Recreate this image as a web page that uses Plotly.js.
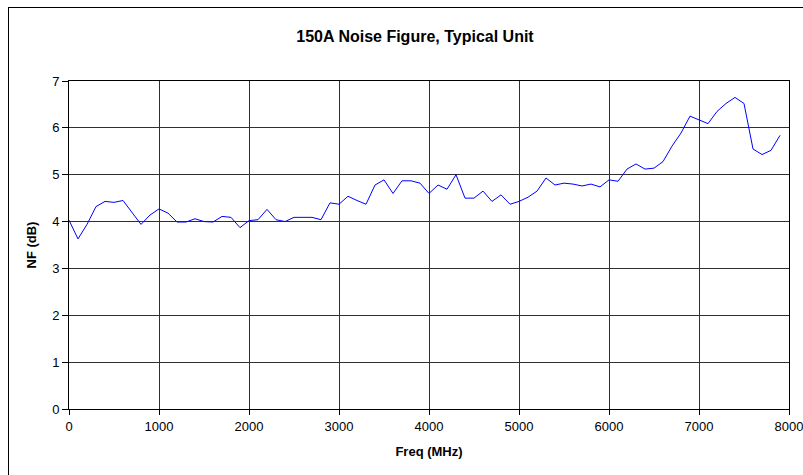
<!DOCTYPE html>
<html><head><meta charset="utf-8">
<script src="https://cdn.plot.ly/plotly-3.0.1.min.js"></script>
<style>html,body{margin:0;padding:0;background:#fff;overflow:hidden}#frame{position:absolute;left:8px;top:7px;width:820px;height:500px;border:1px solid #000;pointer-events:none}</style>
</head><body>
<div id="chart" style="width:803px;height:475px;position:absolute;left:0;top:0"></div>
<div id="frame"></div>
<script>
const freqMHz = [];
for (let f = 0; f <= 7900; f += 100) freqMHz.push(f);
const nfDb = [
  4.03, 3.63, 3.94, 4.32, 4.43, 4.41, 4.45, 4.20, 3.94, 4.14,
  4.27, 4.18, 3.99, 3.99, 4.06, 4.00, 3.99, 4.11, 4.09, 3.87,
  4.02, 4.04, 4.26, 4.04, 4.00, 4.09, 4.09, 4.09, 4.04, 4.40,
  4.37, 4.54, 4.45, 4.37, 4.78, 4.89, 4.60, 4.87, 4.87, 4.82,
  4.60, 4.78, 4.69, 5.00, 4.50, 4.50, 4.65, 4.43, 4.57, 4.37,
  4.43, 4.52, 4.65, 4.93, 4.78, 4.82, 4.80, 4.76, 4.80, 4.74,
  4.89, 4.86, 5.12, 5.23, 5.12, 5.14, 5.28, 5.61, 5.89, 6.25,
  6.17, 6.09, 6.35, 6.52, 6.65, 6.52, 5.55, 5.43, 5.52, 5.84
];
const xTicks = [0,1000,2000,3000,4000,5000,6000,7000,8000];
const yTicks = [0,1,2,3,4,5,6,7];
const font = 'Liberation Sans, Arial, sans-serif';
Plotly.newPlot('chart', [{
  x: freqMHz, y: nfDb, type: 'scatter', mode: 'lines',
  line: {color: '#0000ff', width: 1}, hoverinfo: 'none'
}], {
  width: 803, height: 475,
  margin: {l: 69, r: 14, t: 81, b: 66},
  paper_bgcolor: '#fff', plot_bgcolor: '#fff',
  showlegend: false,
  title: {text: '<b>150A Noise Figure, Typical Unit</b>', font: {family: font, size: 16, color: '#000'}, x: 0.5168, xanchor: 'center', y: 0.924, yanchor: 'middle'},
  xaxis: {
    range: [0, 8000], tickvals: xTicks, ticktext: xTicks.map(String),
    showgrid: true, gridcolor: '#303030', gridwidth: 1,
    showline: true, linecolor: '#000', linewidth: 1, mirror: true,
    ticks: 'outside', ticklen: 5, tickcolor: '#000',
    ticklabeloverflow: 'allow',
    zeroline: false,
    tickfont: {family: font, size: 13, color: '#000'},
    title: {text: '<b>Freq (MHz)</b>', font: {family: font, size: 13, color: '#000'}, standoff: 14}
  },
  yaxis: {
    range: [0, 7], tickvals: yTicks, ticktext: yTicks.map(String),
    showgrid: true, gridcolor: '#303030', gridwidth: 1,
    showline: true, linecolor: '#000', linewidth: 1, mirror: true,
    ticks: 'outside', ticklen: 6, tickcolor: '#000',
    zeroline: false,
    tickfont: {family: font, size: 13, color: '#000'},
    title: {text: '<b>NF (dB)</b>', font: {family: font, size: 13, color: '#000'}, standoff: 12}
  }
}, {staticPlot: true, displayModeBar: false});
</script>
</body></html>
